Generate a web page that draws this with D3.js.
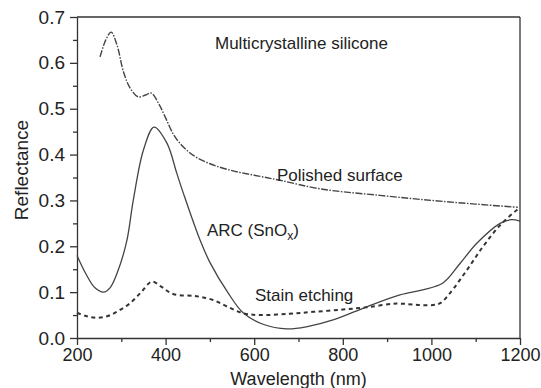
<!DOCTYPE html>
<html>
<head>
<meta charset="utf-8">
<script src="https://cdn.jsdelivr.net/npm/d3@7"></script>
<style>
  body { margin: 0; background: #fff; }
  text { font-family: "Liberation Sans", Arial, sans-serif; fill: #222; }
  .axis path, .axis line { stroke: #333; stroke-width: 1.3; }
</style>
</head>
<body>
<svg width="541" height="388"></svg>
<script>
// wavelength (nm) / reflectance pairs
var polishedWl  = [252, 265, 277, 290, 305, 320, 338, 355, 368, 385, 400, 417, 432, 460, 500, 550, 600, 658, 750, 884, 1000, 1100, 1195];
var polishedVal = [0.613, 0.65, 0.667, 0.64, 0.58, 0.545, 0.526, 0.53, 0.534, 0.51, 0.48, 0.445, 0.425, 0.40, 0.38, 0.365, 0.355, 0.344, 0.325, 0.311, 0.30, 0.292, 0.285];

var arcWl  = [200, 220, 240, 260, 275, 290, 312, 327, 350, 374, 403, 425, 440, 478, 500, 540, 575, 620, 674, 720, 780, 854, 929, 980, 1026, 1065, 1103, 1155, 1180, 1200];
var arcVal = [0.18, 0.14, 0.11, 0.10, 0.11, 0.14, 0.21, 0.30, 0.41, 0.46, 0.425, 0.36, 0.316, 0.213, 0.165, 0.10, 0.055, 0.03, 0.02, 0.025, 0.04, 0.068, 0.094, 0.105, 0.12, 0.163, 0.207, 0.25, 0.258, 0.255];

var stainWl  = [200, 220, 245, 270, 295, 320, 345, 369, 390, 417, 470, 507, 540, 575, 613, 680, 733, 800, 854, 922, 970, 1004, 1020, 1042, 1080, 1117, 1155, 1193, 1200];
var stainVal = [0.055, 0.048, 0.044, 0.048, 0.06, 0.076, 0.10, 0.123, 0.112, 0.096, 0.091, 0.083, 0.068, 0.054, 0.05, 0.053, 0.057, 0.062, 0.067, 0.075, 0.072, 0.072, 0.076, 0.098, 0.148, 0.2, 0.246, 0.279, 0.283];

var xTicks = [200, 400, 600, 800, 1000, 1200];
var yTicks = [0, 0.1, 0.2, 0.3, 0.4, 0.5, 0.6, 0.7];

var svg = d3.select('svg');
var width = +svg.attr('width');
var height = +svg.attr('height');
var padding = {t: 17, r: 21, b: 50, l: 77};
var chartWidth = width - padding.l - padding.r;
var chartHeight = height - padding.t - padding.b;

var chartG = svg.append('g')
    .attr('transform', 'translate(' + [padding.l, padding.t] + ')');

var xScale = d3.scaleLinear().domain([200, 1200]).range([0, chartWidth]);
var yScale = d3.scaleLinear().domain([0, 0.7]).range([chartHeight, 0]);

// minor ticks first
chartG.append('g')
    .attr('class', 'axis')
    .attr('transform', 'translate(0,' + chartHeight + ')')
    .call(d3.axisBottom(xScale).tickValues(d3.range(300, 1200, 200)).tickSize(4).tickFormat(''))
    .select('.domain').remove();
chartG.append('g')
    .attr('class', 'axis')
    .call(d3.axisLeft(yScale).tickValues(d3.range(0.05, 0.7, 0.1)).tickSize(4).tickFormat(''))
    .select('.domain').remove();

var xAxis = chartG.append('g')
    .attr('class', 'axis')
    .attr('transform', 'translate(0,' + chartHeight + ')')
    .call(d3.axisBottom(xScale).tickValues(xTicks).tickSize(7).tickSizeOuter(0).tickPadding(3).tickFormat(d3.format('d')));
xAxis.selectAll('text').style('font-size', '18px').attr('fill', '#222');

var yAxis = chartG.append('g')
    .attr('class', 'axis')
    .call(d3.axisLeft(yScale).tickValues(yTicks).tickSize(7).tickSizeOuter(0).tickPadding(5).tickFormat(d3.format('.1f')));
yAxis.selectAll('text').style('font-size', '19px').attr('fill', '#222');

// frame top and right
chartG.append('line')
    .attr('x1', 0).attr('x2', chartWidth).attr('y1', 0).attr('y2', 0)
    .attr('stroke', '#333').attr('stroke-width', 1.3);
chartG.append('line')
    .attr('x1', chartWidth).attr('x2', chartWidth).attr('y1', 0).attr('y2', chartHeight)
    .attr('stroke', '#333').attr('stroke-width', 1.3);

var line = d3.line()
    .x(function(d){ return xScale(d[0]); })
    .y(function(d){ return yScale(d[1]); })
    .curve(d3.curveCatmullRom);

function pairs(xs, ys) {
    return xs.map(function(x, i){ return [x, ys[i]]; });
}

chartG.append('path')
    .datum(pairs(polishedWl, polishedVal))
    .attr('d', line)
    .attr('fill', 'none')
    .attr('stroke', '#444')
    .attr('stroke-width', 1.4)
    .attr('stroke-dasharray', '7,1.5,1.5,1.5');

chartG.append('path')
    .datum(pairs(arcWl, arcVal))
    .attr('d', line)
    .attr('fill', 'none')
    .attr('stroke', '#444')
    .attr('stroke-width', 1.3);

chartG.append('path')
    .datum(pairs(stainWl, stainVal))
    .attr('d', line)
    .attr('fill', 'none')
    .attr('stroke', '#333')
    .attr('stroke-width', 2)
    .attr('stroke-dasharray', '4,3.5');

// labels
svg.append('text')
    .attr('x', 215).attr('y', 49)
    .style('font-size', '17px')
    .text('Multicrystalline silicone');

svg.append('text')
    .attr('x', 277).attr('y', 181)
    .style('font-size', '17px')
    .text('Polished surface');

var arc = svg.append('text')
    .attr('x', 207).attr('y', 236)
    .style('font-size', '17px');
arc.append('tspan').text('ARC (SnO');
arc.append('tspan').attr('dy', 4).style('font-size', '12px').text('x');
arc.append('tspan').attr('dy', -4).text(')');

svg.append('text')
    .attr('x', 255).attr('y', 301)
    .style('font-size', '17px')
    .text('Stain etching');

svg.append('text')
    .attr('x', padding.l + chartWidth / 2).attr('y', 385)
    .attr('text-anchor', 'middle')
    .style('font-size', '18px')
    .text('Wavelength (nm)');

svg.append('text')
    .attr('transform', 'translate(28,170) rotate(-90)')
    .attr('text-anchor', 'middle')
    .style('font-size', '19px')
    .text('Reflectance');
</script>
</body>
</html>
